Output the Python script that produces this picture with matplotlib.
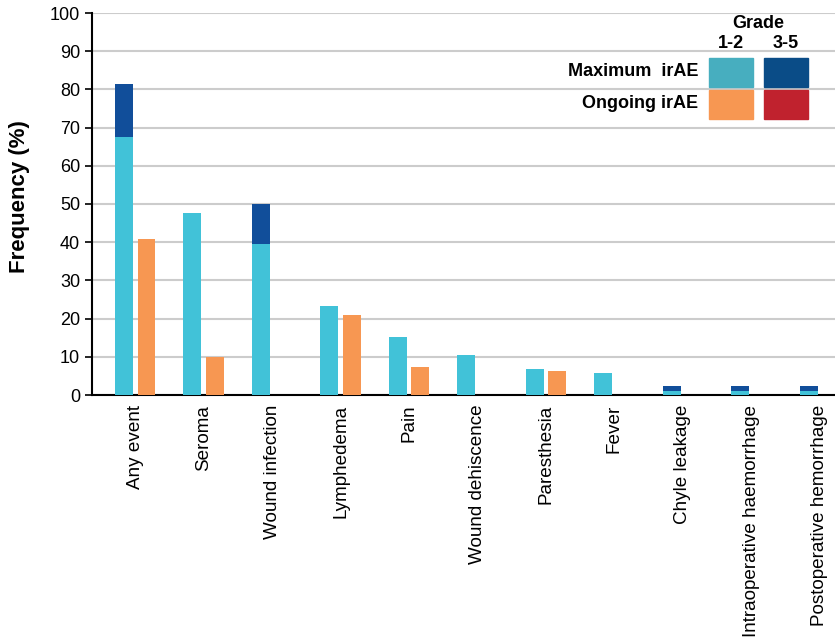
import matplotlib.pyplot as plt
from matplotlib.patches import Rectangle
import numpy as np

plt.rcParams['font.family'] = ['Liberation Sans', 'DejaVu Sans']

categories = ["Any event", "Seroma", "Wound infection", "Lymphedema", "Pain",
              "Wound dehiscence", "Paresthesia", "Fever", "Chyle leakage",
              "Intraoperative haemorrhage", "Postoperative hemorrhage"]
max_g12 = [67.5, 47.6, 39.5, 23.3, 15.1, 10.5, 6.9, 5.8, 1.1, 1.1, 1.1]
max_g35 = [13.9, 0, 10.5, 0, 0, 0, 0, 0, 1.2, 1.2, 1.2]
ongoing_g12 = [40.8, 9.9, 0, 20.9, 7.3, 0, 6.2, 0, 0, 0, 0]
ongoing_g35 = [0, 0, 0, 0, 0, 0, 0, 0, 0, 0, 0]

c_cyan = "#41c2d8"
c_dblue = "#114e9a"
c_orange = "#f79752"
c_red = "#c0222e"

fig = plt.figure(figsize=(8.35, 6.42), dpi=100)
ax = fig.add_axes([92 / 835, 1 - 395 / 642, 743 / 835, 382 / 642])

x = np.arange(len(categories))
w = 0.26
off = 0.165
ax.bar(x - off, max_g12, w, color=c_cyan, zorder=3)
ax.bar(x - off, max_g35, w, bottom=max_g12, color=c_dblue, zorder=3)
ax.bar(x + off, ongoing_g12, w, color=c_orange, zorder=3)
ax.bar(x + off, ongoing_g35, w, bottom=ongoing_g12, color=c_red, zorder=3)

ax.set_xlim(-0.63, 10.22)
ax.set_ylim(0, 100)
ax.set_yticks(range(0, 101, 10))
ax.yaxis.grid(True, color="#cccccc", linewidth=1.5, zorder=0)
ax.set_axisbelow(True)
ax.set_xticks(x)
ax.set_xticklabels(categories, rotation=90, fontsize=13.6)
ax.tick_params(axis="x", length=0, pad=7)
ax.tick_params(axis="y", labelsize=13, length=5, width=1.2)
for s in ["top", "right"]:
    ax.spines[s].set_visible(False)
ax.spines["left"].set_linewidth(1.5)
ax.spines["bottom"].set_linewidth(1.5)
ax.set_ylabel("Frequency (%)", fontsize=16, fontweight="bold")
ax.yaxis.set_label_coords(-0.084, 0.52)

# legend drawn as a little table in figure pixels
def fig_rect(x0, y0, x1, y1, color):
    fig.patches.append(Rectangle((x0 / 835, 1 - y1 / 642), (x1 - x0) / 835, (y1 - y0) / 642,
                                 transform=fig.transFigure, color=color, zorder=5))

fig_rect(709, 58, 753, 87, "#47aebf")
fig_rect(764, 58, 808, 87, "#0a4c87")
fig_rect(709, 90, 753, 119, c_orange)
fig_rect(764, 90, 808, 119, c_red)

def fig_text(px, py, s, ha="center"):
    fig.text(px / 835, 1 - py / 642, s, ha=ha, va="center", fontsize=13, fontweight="bold")

fig_text(758, 23, "Grade")
fig_text(731, 43, "1-2")
fig_text(786, 43, "3-5")
fig_text(698, 72, "Maximum  irAE", ha="right")
fig_text(698, 104, "Ongoing irAE", ha="right")

fig.savefig("out.png", dpi=100)
